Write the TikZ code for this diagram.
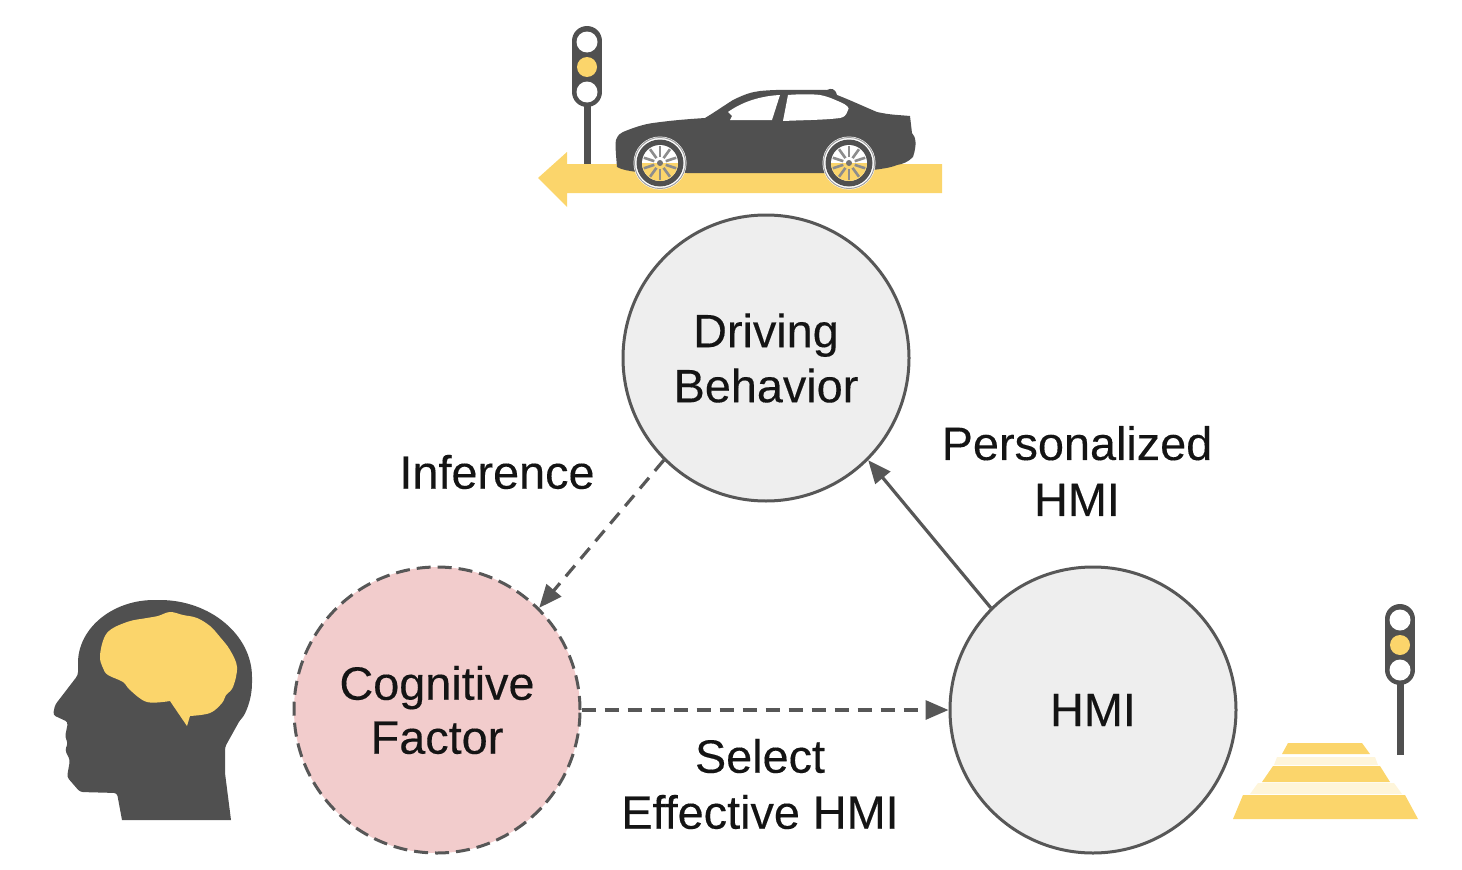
\documentclass[tikz,border=0pt]{standalone}
\usepackage{fontspec}
\setmainfont{Liberation Sans}
\newfontfamily\labfont[FakeBold=0.25]{Liberation Sans}
\usetikzlibrary{arrows.meta}
\definecolor{ink}{HTML}{575757}
\definecolor{dark}{HTML}{505050}
\definecolor{amber}{HTML}{FBD56B}
\definecolor{pale}{HTML}{EEEEEE}
\definecolor{rose}{HTML}{F2CCCC}
\tikzset{
  x=1pt,y=-1pt,
  state/.style={circle,draw=ink,line width=3pt,minimum size=286pt,inner sep=0pt,fill=pale,align=center,font=\labfont\fontsize{46.8}{55}\selectfont,text=black!92},
  label/.style={align=center,font=\labfont\fontsize{46.8}{56}\selectfont,text=black!92},
  link/.style={draw=ink,line width=3.2pt,-{Triangle[length=23pt,width=19pt]}},
  dashlink/.style={link,dash pattern=on 14pt off 9pt},
  pole/.style={draw=dark,line width=7pt},
  lighthousing/.style={draw=dark,line width=30pt,line cap=round}
}
\newcommand{\wheelat}[2]{%
  \begin{scope}[shift={(#1,#2)}]
    \fill[white] (0,0) circle (26.5);
    \draw[dark!55,line width=1pt] (0,0) circle (25.5);
    \fill[dark] (0,0) circle (23.5);
    \fill[white] (0,0) circle (18);
    \begin{scope}
      \clip (-20,0) rectangle (20,20);
      \fill[amber] (0,0) circle (18);
    \end{scope}
    \foreach \a in {18,54,...,342}{\draw[dark!65,line width=2.6pt] (\a:6) -- (\a:17);}
    \fill[dark!80] (0,0) circle (3);
  \end{scope}}
\begin{document}
\begin{tikzpicture}
\useasboundingbox (0,0) rectangle (1462,870);

% road arrow
\fill[amber] (942,164) -- (567,164) -- (567,152) -- (538,178) -- (567,207) -- (567,193) -- (942,193) -- cycle;

% top traffic light
\draw[pole] (587,100) -- (587,164);
\draw[lighthousing] (587,41) -- (587,92);
\fill[white] (587,42) circle (10.5);
\fill[amber] (587,67) circle (10);
\fill[white] (587,92) circle (10.5);

% car
\fill[dark] (617,167) .. controls (616,155) and (615,145) .. (616,140)
  .. controls (618,135) and (620,133) .. (623,132)
  .. controls (635,127) and (645,124) .. (653,123)
  .. controls (675,120) and (690,119) .. (705,118)
  .. controls (715,112) and (725,105) .. (733,100)
  .. controls (745,94) and (752,92) .. (760,91)
  .. controls (780,89) and (805,90) .. (827,90)
  .. controls (831,88) and (835,88) .. (837,95)
  .. controls (850,100) and (865,107) .. (877,112)
  .. controls (890,115) and (900,115) .. (910,116)
  -- (912,133) .. controls (916,137) and (917,145) .. (913,157)
  .. controls (908,162) and (903,164) .. (897,165)
  .. controls (890,168) and (880,169) .. (873,170)
  -- (873,173) -- (687,173) -- (637,172)
  .. controls (630,171) and (622,170) .. (617,167) -- cycle;
\fill[white] (728,112) .. controls (742,102) and (760,96) .. (780,95)
  -- (772,120) -- (730,120) -- (732,116) -- cycle;
\fill[white] (783,121) -- (788,95) .. controls (800,94) and (812,94) .. (820,95)
  .. controls (830,97) and (835,100) .. (840,102)
  .. controls (847,105) and (850,108) .. (848,110)
  .. controls (846,116) and (844,117) .. (840,118)
  .. controls (825,120) and (805,120) .. (783,121) -- cycle;
\wheelat{660}{163}
\wheelat{849}{163}

% head
\fill[dark] (122,820) [rounded corners=3pt] -- (117,793) -- (80,792) -- (67,777) -- (70,760)
  -- (65,750) -- (68,743) -- (65,737) -- (68,722) -- (53,715) -- (55,705) -- (78,675) -- (78,660)
  .. controls (82,625) and (115,600) .. (157,600)
  .. controls (210,600) and (252,635) .. (252,680)
  .. controls (252,700) and (245,715) .. (240,720)
  -- (225,747) [sharp corners] -- (225,773) -- (231,820) -- cycle;
% brain
\fill[amber] (187,726) -- plot[smooth,tension=.6] coordinates {(190,716) (210,713) (222,703) (226,695) (233,687) (237,667) (230,650) (220,637) (210,626) (197,618) (183,615) (170,612) (158,616) (147,618) (127,622) (107,633) (100,655) (103,668) (108,675) (123,682) (130,690) (147,702) (170,701)} -- cycle;

% crossing
\fill[amber] (1288,743) -- (1362,743) -- (1370,754) -- (1282,754) -- cycle;
\fill[amber!25] (1277,757) -- (1375,757) -- (1378,765) -- (1274,765) -- cycle;
\fill[amber] (1273,766) -- (1380,766) -- (1390,782) -- (1262,782) -- cycle;
\fill[amber!25] (1258,783) -- (1394,783) -- (1402,794) -- (1250,794) -- cycle;
\fill[amber] (1243,795) -- (1405,795) -- (1418,819) -- (1233,819) -- cycle;

% right traffic light
\draw[pole] (1400,680) -- (1400,755);
\draw[lighthousing] (1400,619) -- (1400,670);
\fill[white] (1400,620) circle (10.5);
\fill[amber] (1400,645) circle (10);
\fill[white] (1400,670) circle (10.5);

% states
\node[state] (drive) at (766,358) {\raisebox{-1pt}{Driving}\\\raisebox{-1pt}{Behavior}};
\node[state,fill=rose,dash pattern=on 14pt off 7pt] (cog) at (437,710) {\raisebox{-1pt}{Cognitive}\\Factor};
\node[state] (hmi) at (1093,710) {HMI};

% links
\draw[dashlink] (drive.225) -- (cog.45);
\draw[dashlink] (cog) -- (hmi);
\draw[link] (hmi.135) -- (drive.-45);

% labels
\node[label] (lInf) at (497,472) {Inference};
\node[label] (lPers) at (1077,471) {Personalized\\HMI};
\node[label] (lSel) at (760,784) {Select\\Effective HMI};
\end{tikzpicture}
\end{document}
